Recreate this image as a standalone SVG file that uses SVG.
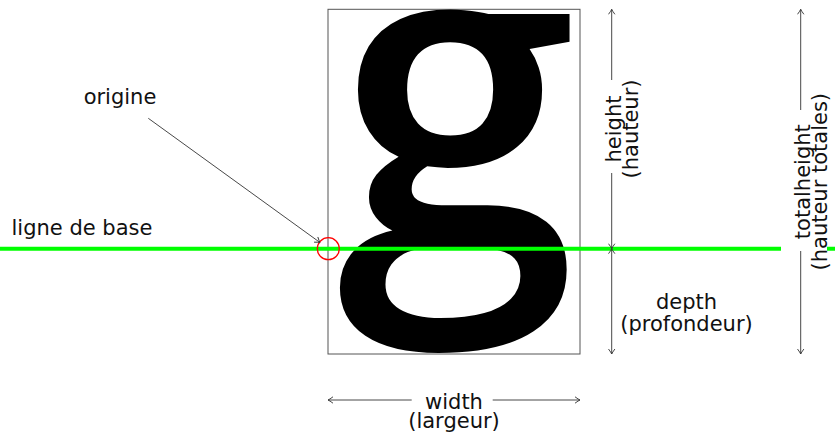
<svg xmlns="http://www.w3.org/2000/svg" width="835" height="434" viewBox="0 0 835 434">
  <style>
    .lbl { font-family: "DejaVu Sans", "Liberation Sans", sans-serif; font-size: 21px; fill: #111; }
    .dim { stroke: #333; stroke-width: 0.9; fill: none; }
    .glyph { font-family: "Open Sans", "Noto Sans", sans-serif; font-size: 434px; font-weight: 600; fill: #000; }
  </style>
  <defs>
    <marker id="ah" viewBox="-6 -4 7 8" refX="0" refY="0" markerWidth="7" markerHeight="8" markerUnits="userSpaceOnUse" orient="auto-start-reverse">
      <path d="M -5 -3.2 Q -1.5 -0.6 0 0 Q -1.5 0.6 -5 3.2" fill="none" stroke="#333" stroke-width="0.9"/>
    </marker>
  </defs>
  <rect width="835" height="434" fill="#fff"/>

  <g id="glyph-box">
    <rect x="328" y="9.3" width="252" height="344.7" fill="none" stroke="#555" stroke-width="1"/>
    <text class="glyph" x="336" y="248.7">g</text>
  </g>

  <g id="baseline">
    <line x1="0" y1="248.7" x2="835" y2="248.7" stroke="#00ff00" stroke-width="4"/>
    <text class="lbl" x="11.5" y="235">ligne de base</text>
  </g>

  <g id="origin">
    <circle cx="328.3" cy="248.7" r="11" fill="none" stroke="#ff0000" stroke-width="1.3"/>
  </g>

  <g id="origine-label">
    <text class="lbl" x="120" y="103.5" text-anchor="middle">origine</text>
  </g>

  <g id="connectors">
    <line class="dim" x1="148.3" y1="118.3" x2="320" y2="242.5" marker-end="url(#ah)"/>
    <!-- height -->
    <line class="dim" x1="611.7" y1="9.3" x2="611.7" y2="80" marker-start="url(#ah)"/>
    <line class="dim" x1="611.7" y1="173" x2="611.7" y2="248.7" marker-end="url(#ah)"/>
    <!-- depth -->
    <line class="dim" x1="611.7" y1="248.7" x2="611.7" y2="354" marker-start="url(#ah)" marker-end="url(#ah)"/>
    <!-- totalheight -->
    <line class="dim" x1="800.7" y1="9.3" x2="800.7" y2="110" marker-start="url(#ah)"/>
    <line class="dim" x1="800.7" y1="251" x2="800.7" y2="354" marker-end="url(#ah)"/>
    <!-- width -->
    <line class="dim" x1="328" y1="400" x2="411.7" y2="400" marker-start="url(#ah)"/>
    <line class="dim" x1="492.7" y1="400" x2="580" y2="400" marker-end="url(#ah)"/>
  </g>

  <g id="height-label">
    <text class="lbl" transform="translate(620.7,129) rotate(-90)" text-anchor="middle">height</text>
    <text class="lbl" transform="translate(638.3,129) rotate(-90)" text-anchor="middle">(hauteur)</text>
  </g>

  <g id="depth-label">
    <text class="lbl" x="686.5" y="308.5" text-anchor="middle">depth</text>
    <text class="lbl" x="686.5" y="330.5" text-anchor="middle">(profondeur)</text>
  </g>

  <g id="totalheight-label">
    <rect x="781" y="110" width="46" height="141" fill="#fff"/>
    <text class="lbl" transform="translate(809.7,181.7) rotate(-90)" text-anchor="middle">totalheight</text>
    <text class="lbl" transform="translate(827.3,181.7) rotate(-90)" text-anchor="middle">(hauteur totales)</text>
  </g>

  <g id="width-label">
    <text class="lbl" x="454" y="408.8" text-anchor="middle">width</text>
    <text class="lbl" x="454" y="427.5" text-anchor="middle">(largeur)</text>
  </g>
</svg>
